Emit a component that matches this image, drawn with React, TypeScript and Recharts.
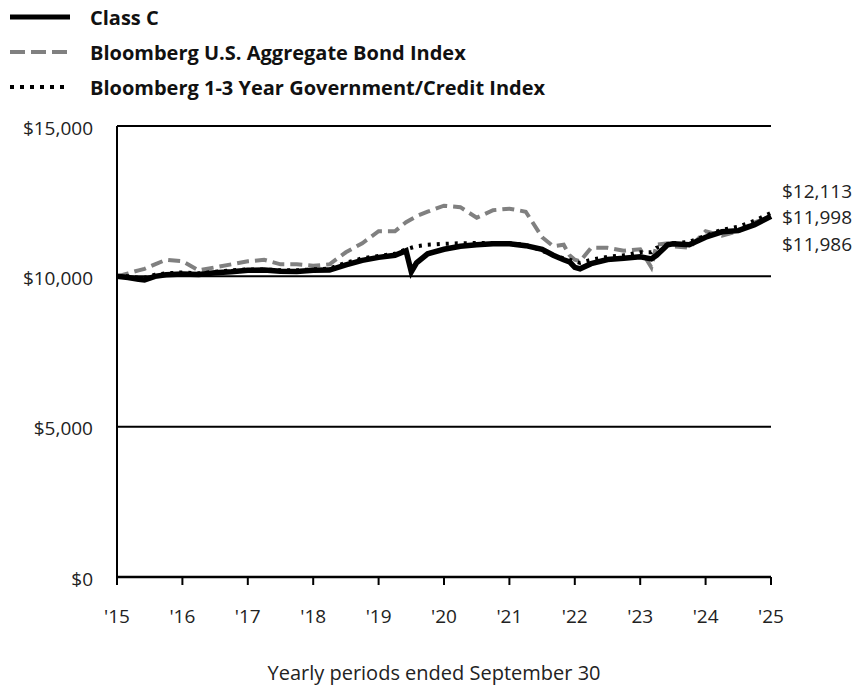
import React from 'react';
import { LineChart, Line, XAxis, YAxis, CartesianGrid, Legend, LabelList } from 'recharts';

// years elapsed since September 30, 2015
const periods = [0, 0.17, 0.33, 0.42, 0.58, 0.75, 1.0, 1.25, 1.5, 1.75, 2.0, 2.25, 2.5, 2.75, 3.0, 3.25, 3.5, 3.75, 4.0, 4.25, 4.42, 4.5, 4.58, 4.75, 5.0, 5.25, 5.5, 5.75, 6.0, 6.25, 6.5, 6.67, 6.83, 6.92, 7.0, 7.08, 7.25, 7.5, 7.75, 8.0, 8.17, 8.25, 8.42, 8.5, 8.75, 9.0, 9.25, 9.5, 9.75, 10];

const classC = [10000, 9960, 9900, 9880, 10000, 10050, 10080, 10060, 10120, 10150, 10200, 10210, 10170, 10160, 10200, 10210, 10380, 10530, 10630, 10700, 10850, 10150, 10450, 10750, 10900, 11000, 11050, 11080, 11080, 11020, 10900, 10700, 10550, 10480, 10300, 10250, 10420, 10560, 10600, 10650, 10580, 10700, 11050, 11080, 11050, 11300, 11480, 11520, 11720, 11998];

const aggregate = [10000, 10100, 10200, 10250, 10400, 10550, 10500, 10200, 10300, 10400, 10500, 10550, 10400, 10400, 10350, 10400, 10800, 11100, 11500, 11500, 11800, 11900, 12000, 12150, 12350, 12300, 11950, 12200, 12250, 12150, 11300, 11000, 11050, 10700, 10550, 10500, 10950, 10950, 10850, 10900, 10300, 11050, 11100, 11000, 10950, 11500, 11350, 11500, 11800, 11986];

const govCredit = [10000, 10000, 9950, 9950, 10050, 10100, 10130, 10100, 10150, 10200, 10230, 10230, 10200, 10200, 10230, 10260, 10450, 10600, 10680, 10750, 10900, 10950, 11000, 11050, 11080, 11100, 11110, 11110, 11100, 11050, 10850, 10700, 10600, 10550, 10500, 10450, 10550, 10650, 10700, 10800, 10800, 10950, 11050, 11100, 11150, 11350, 11550, 11650, 11850, 12113];

const xTicks = [0, 1, 2, 3, 4, 5, 6, 7, 8, 9, 10];
const xTickLabels = ["'15", "'16", "'17", "'18", "'19", "'20", "'21", "'22", "'23", "'24", "'25"];
const yTicks = [0, 5000, 10000, 15000];

const seriesNames = {
  classC: 'Class C',
  aggregate: 'Bloomberg U.S. Aggregate Bond Index',
  govCredit: 'Bloomberg 1-3 Year Government/Credit Index',
};

const data = periods.map((t, i) => ({
  t,
  classC: classC[i],
  aggregate: aggregate[i],
  govCredit: govCredit[i],
}));

const FONT = "'Open Sans', sans-serif";
const GRAY = '#808080';

const fmtMoney = (v: number) => '$' + v.toLocaleString('en-US');

const endLabel = (dyOffset: number) => (props: any) => {
  const { x, y, index, value } = props;
  if (index !== data.length - 1) return null;
  return (
    <text x={x + 11} y={y + dyOffset} fontFamily={FONT} fontSize={19} fill="#222" dominantBaseline="central">
      {fmtMoney(value)}
    </text>
  );
};

const LegendContent = () => {
  const rows = [
    { name: seriesNames.classC, stroke: '#000', width: 5, dash: undefined as string | undefined },
    { name: seriesNames.aggregate, stroke: GRAY, width: 4, dash: '15 6' },
    { name: seriesNames.govCredit, stroke: '#000', width: 4, dash: '4 6' },
  ];
  return (
    <svg width={650} height={105} style={{ display: 'block' }}>
      {rows.map((r, i) => {
        const y = 17 + i * 35;
        return (
          <g key={r.name}>
            <line x1={10} x2={70} y1={y} y2={y} stroke={r.stroke} strokeWidth={r.width} strokeDasharray={r.dash} />
            <text x={90} y={y} dominantBaseline="central" fontFamily={FONT} fontWeight={700} fontSize={20} fill="#111">
              {r.name}
            </text>
          </g>
        );
      })}
    </svg>
  );
};

export default function App() {
  return (
    <div style={{ position: 'absolute', left: 0, top: 0, width: 855, height: 685, background: '#fff' }}>
      <LineChart width={855} height={685} data={data} margin={{ top: 126, right: 84, left: 57, bottom: 0 }}>
        <CartesianGrid vertical={false} stroke="#000" strokeWidth={2} horizontalValues={[5000, 10000, 15000]} />
        <XAxis
          dataKey="t"
          type="number"
          domain={[0, 10]}
          ticks={xTicks}
          tickFormatter={(v: number) => xTickLabels[xTicks.indexOf(v)]}
          height={108}
          tickSize={8}
          tickMargin={25}
          axisLine={{ stroke: '#000', strokeWidth: 2.5 }}
          tickLine={{ stroke: '#000', strokeWidth: 2 }}
          tick={{ fontFamily: FONT, fontSize: 19, fill: '#222' }}
          label={{ value: 'Yearly periods ended September 30', position: 'insideBottom', offset: 5, dx: -10, style: { fontFamily: FONT, fontSize: 20, fill: '#222' } }}
        />
        <YAxis
          type="number"
          domain={[0, 15000]}
          ticks={yTicks}
          width={60}
          tickSize={0}
          tickMargin={24}
          axisLine={{ stroke: '#000', strokeWidth: 2 }}
          tickLine={false}
          tickFormatter={fmtMoney}
          tick={{ fontFamily: FONT, fontSize: 19, fill: '#222', dy: 2 }}
        />
        <Legend layout="vertical" align="center" verticalAlign="middle" wrapperStyle={{ top: 0, left: 0, width: 650 }} content={<LegendContent />} />
        <Line type="linear" dataKey="aggregate" name={seriesNames.aggregate} stroke={GRAY} strokeWidth={4} strokeDasharray="12 6" dot={false} isAnimationActive={false}>
          <LabelList dataKey="aggregate" content={endLabel(27)} />
        </Line>
        <Line type="linear" dataKey="govCredit" name={seriesNames.govCredit} stroke="#000" strokeWidth={4} strokeDasharray="3 6" dot={false} isAnimationActive={false}>
          <LabelList dataKey="govCredit" content={endLabel(-22)} />
        </Line>
        <Line type="linear" dataKey="classC" name={seriesNames.classC} stroke="#000" strokeWidth={5.5} dot={false} isAnimationActive={false}>
          <LabelList dataKey="classC" content={endLabel(1)} />
        </Line>
      </LineChart>
    </div>
  );
}
